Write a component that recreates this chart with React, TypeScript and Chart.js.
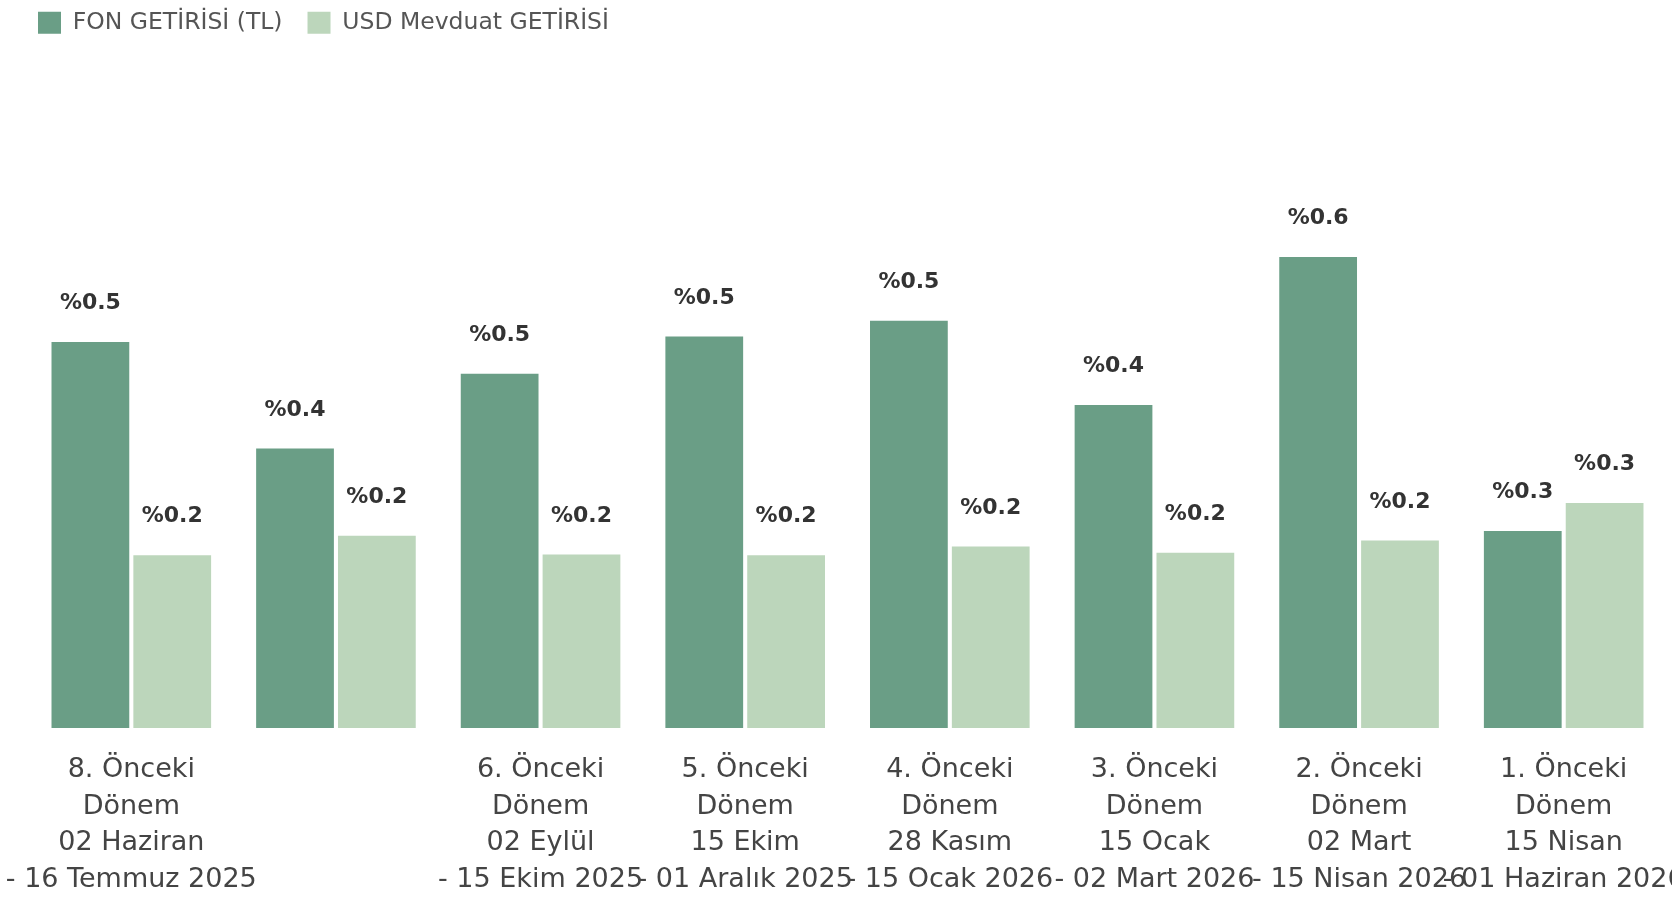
import React, { useEffect, useRef } from "react";
import { Chart, registerables } from "chart.js";

Chart.register(...registerables);

const categories: string[][] = [
  ["8. Önceki", "Dönem", "02 Haziran", "- 16 Temmuz 2025"],
  [""],
  ["6. Önceki", "Dönem", "02 Eylül", "- 15 Ekim 2025"],
  ["5. Önceki", "Dönem", "15 Ekim", "- 01 Aralık 2025"],
  ["4. Önceki", "Dönem", "28 Kasım", "- 15 Ocak 2026"],
  ["3. Önceki", "Dönem", "15 Ocak", "- 02 Mart 2026"],
  ["2. Önceki", "Dönem", "02 Mart", "- 15 Nisan 2026"],
  ["1. Önceki", "Dönem", "15 Nisan", "- 01 Haziran 2026"],
];

const fonGetirisi: number[] = [0.496, 0.359, 0.455, 0.503, 0.523, 0.415, 0.605, 0.253];
const usdGetirisi: number[] = [0.222, 0.247, 0.223, 0.222, 0.233, 0.225, 0.241, 0.289];

const seriesNames = ["FON GETİRİSİ (TL)", "USD Mevduat GETİRİSİ"];

const FONT = '"DejaVu Sans", sans-serif';

const valueLabels = {
  id: "valueLabels",
  afterDatasetsDraw(chart: any) {
    const ctx = chart.ctx;
    ctx.save();
    ctx.font = `bold 22px ${FONT}`;
    ctx.fillStyle = "#333333";
    ctx.textAlign = "center";
    ctx.textBaseline = "middle";
    chart.data.datasets.forEach((ds: any, i: number) => {
      const meta = chart.getDatasetMeta(i);
      meta.data.forEach((bar: any, j: number) => {
        const v = ds.data[j] as number;
        ctx.fillText("%" + v.toFixed(1), bar.x, bar.y - 38.5);
      });
    });
    ctx.restore();
  },
};

export default function App() {
  const ref = useRef<HTMLCanvasElement>(null);

  useEffect(() => {
    document.body.style.margin = "0";
    if (!ref.current) return;
    const chart = new Chart(ref.current, {
      type: "bar",
      data: {
        labels: categories,
        datasets: [
          {
            label: seriesNames[0],
            data: fonGetirisi,
            backgroundColor: "#6a9e86",
            borderWidth: 0,
          },
          {
            label: seriesNames[1],
            data: usdGetirisi,
            backgroundColor: "#bcd6bb",
            borderWidth: 0,
          },
        ],
      },
      options: {
        animation: false,
        responsive: false,
        devicePixelRatio: 1,
        layout: { padding: { left: 13, right: 6, top: -14, bottom: 0 } },
        datasets: {
          bar: { categoryPercentage: 0.8, barPercentage: 0.95 },
        },
        plugins: {
          legend: {
            display: true,
            position: "top",
            align: "start",
            labels: {
              boxWidth: 23,
              boxHeight: 22,
              padding: 25,
              color: "#555555",
              font: { family: FONT, size: 23.5 },
            },
          },
          tooltip: { enabled: false },
        },
        scales: {
          x: {
            grid: { display: false },
            border: { display: false },
            ticks: {
              color: "#444444",
              font: { family: FONT, size: 27, lineHeight: 1.355 },
              padding: 16,
              autoSkip: false,
              maxRotation: 0,
              minRotation: 0,
            },
            afterFit: (s: any) => {
              s.paddingLeft = 0;
              s.paddingRight = 0;
              s.height = 172;
            },
          },
          y: {
            min: 0,
            max: 0.878,
            display: true,
            grid: { display: false },
            border: { display: false },
            ticks: { display: false },
            afterFit: (s: any) => {
              s.width = 16;
            },
          },
        },
      },
      plugins: [valueLabels],
    });
    return () => chart.destroy();
  }, []);

  return (
    <div style={{ width: 1672, height: 900, background: "#ffffff" }}>
      <canvas ref={ref} width={1672} height={900} />
    </div>
  );
}
